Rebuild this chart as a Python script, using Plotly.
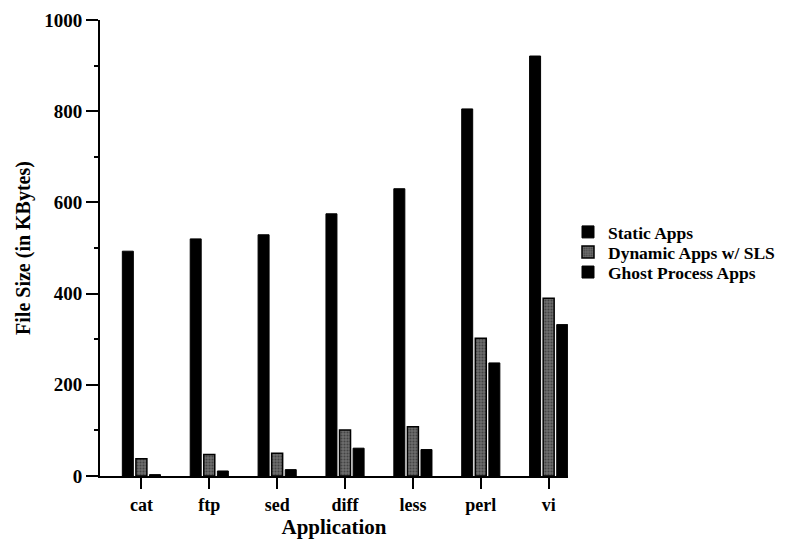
import plotly.graph_objects as go

apps = ["cat", "ftp", "sed", "diff", "less", "perl", "vi"]
static_apps = [493, 520, 529, 575, 630, 805, 921]
dynamic_sls = [38, 47, 50, 101, 108, 302, 390]
ghost_apps = [3, 11, 14, 61, 58, 248, 332]

FONT = "Liberation Serif"

fig = go.Figure()
fig.add_trace(go.Bar(name="Static Apps", x=apps, y=static_apps, legend="legend",
                     marker=dict(color="black", line=dict(color="black", width=1))))
fig.add_trace(go.Bar(name="Dynamic Apps w/ SLS", x=apps, y=dynamic_sls, legend="legend2",
                     marker=dict(color="#666666", line=dict(color="black", width=1.5),
                                 pattern=dict(shape=".", fgcolor="#1a1a1a", bgcolor="#6e6e6e",
                                              size=3, solidity=0.4))))
fig.add_trace(go.Bar(name="Ghost Process Apps", x=apps, y=ghost_apps, legend="legend3",
                     marker=dict(color="black", line=dict(color="black", width=1))))

# page body has an 8px margin; plot area spans x 100..568, y 20..476 on screen
leg_common = dict(x=1.0, xanchor="left", yanchor="middle",
                  font=dict(family=FONT, size=17.5, color="black", weight="bold"),
                  itemwidth=30, bgcolor="rgba(0,0,0,0)")

fig.update_layout(
    width=790, height=544,
    margin=dict(l=92, r=230, t=12, b=76, autoexpand=False),
    paper_bgcolor="white", plot_bgcolor="white",
    barmode="group", bargap=0.4, bargroupgap=0.19,
    font=dict(family=FONT, size=18, color="black"),
    showlegend=True,
    legend=dict(y=0.535, **leg_common),
    legend2=dict(y=0.491, **leg_common),
    legend3=dict(y=0.447, **leg_common),
    xaxis=dict(
        range=[-0.61, 6.285], showline=True, linecolor="black", linewidth=2,
        ticks="outside", ticklen=11, tickwidth=2, tickcolor="black",
        showgrid=False, zeroline=False, automargin=False,
        tickfont=dict(family=FONT, size=18, weight="bold"),
        title=dict(text="Application", font=dict(family=FONT, size=21, weight="bold"), standoff=6),
    ),
    yaxis=dict(
        range=[0, 1000], tickvals=[0, 200, 400, 600, 800, 1000],
        showline=True, linecolor="black", linewidth=2,
        ticks="outside", ticklen=12, tickwidth=1.5, tickcolor="black",
        minor=dict(tickvals=[100, 300, 500, 700, 900], ticks="outside", ticklen=4,
                   tickwidth=1.5, tickcolor="black", showgrid=False),
        showgrid=False, zeroline=False, automargin=False,
        tickfont=dict(family=FONT, size=19, weight="bold"),
        title=dict(text="File Size (in KBytes)", font=dict(family=FONT, size=20, weight="bold"), standoff=8),
    ),
)

fig.write_html("out.html")
